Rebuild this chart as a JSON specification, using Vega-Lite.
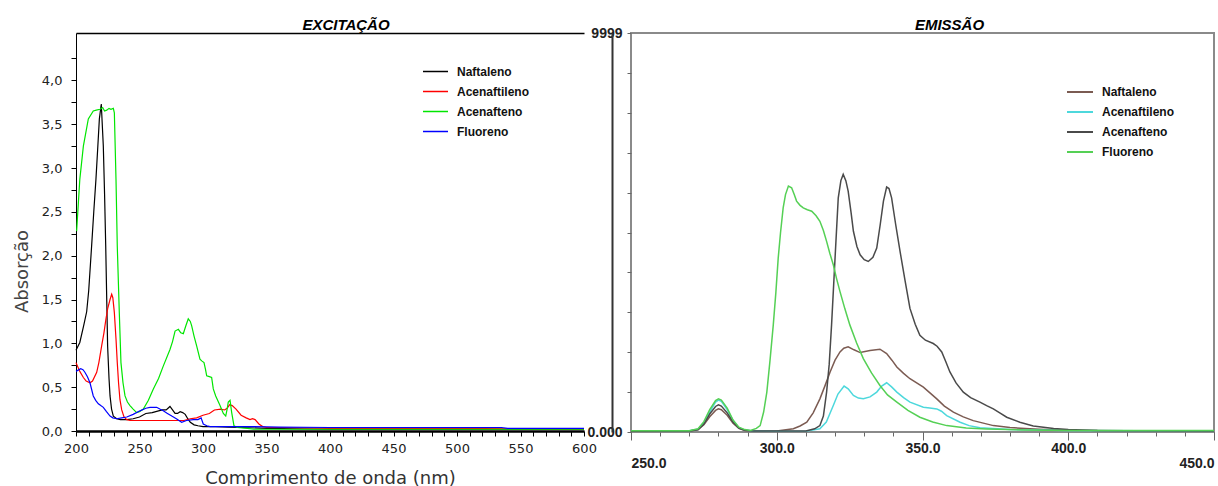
{
  "$schema": "https://vega.github.io/schema/vega-lite/v6.json",
  "padding": {"left": 13, "top": 17, "right": 0, "bottom": 0},
  "background": "white",
  "bounds": "flush",
  "spacing": 47,
  "config": {"view": {"stroke": null}},
  "datasets": {
    "exc": [
      {"s":"Naftaleno","nm":200,"v":0.92},{"s":"Naftaleno","nm":203,"v":1.01},{"s":"Naftaleno","nm":206,"v":1.2},{"s":"Naftaleno","nm":208.4,"v":1.36},{"s":"Naftaleno","nm":210,"v":1.6},{"s":"Naftaleno","nm":212.3,"v":2.11},{"s":"Naftaleno","nm":214,"v":2.5},{"s":"Naftaleno","nm":215.7,"v":2.87},{"s":"Naftaleno","nm":217,"v":3.2},{"s":"Naftaleno","nm":218.4,"v":3.56},{"s":"Naftaleno","nm":219.9,"v":3.73},{"s":"Naftaleno","nm":221.5,"v":3.25},{"s":"Naftaleno","nm":222.5,"v":2.7},{"s":"Naftaleno","nm":223.4,"v":2.11},{"s":"Naftaleno","nm":224.2,"v":1.5},{"s":"Naftaleno","nm":224.9,"v":0.97},{"s":"Naftaleno","nm":226,"v":0.6},{"s":"Naftaleno","nm":226.8,"v":0.4},{"s":"Naftaleno","nm":228,"v":0.25},{"s":"Naftaleno","nm":229.4,"v":0.17},{"s":"Naftaleno","nm":232,"v":0.14},{"s":"Naftaleno","nm":235,"v":0.13},{"s":"Naftaleno","nm":240,"v":0.13},{"s":"Naftaleno","nm":245,"v":0.14},{"s":"Naftaleno","nm":250,"v":0.16},{"s":"Naftaleno","nm":255,"v":0.2},{"s":"Naftaleno","nm":260,"v":0.21},{"s":"Naftaleno","nm":265,"v":0.23},{"s":"Naftaleno","nm":268,"v":0.24},{"s":"Naftaleno","nm":271,"v":0.24},{"s":"Naftaleno","nm":274,"v":0.28},{"s":"Naftaleno","nm":276,"v":0.24},{"s":"Naftaleno","nm":278,"v":0.2},{"s":"Naftaleno","nm":280,"v":0.2},{"s":"Naftaleno","nm":282,"v":0.22},{"s":"Naftaleno","nm":284,"v":0.21},{"s":"Naftaleno","nm":286,"v":0.19},{"s":"Naftaleno","nm":288,"v":0.14},{"s":"Naftaleno","nm":290,"v":0.1},{"s":"Naftaleno","nm":293,"v":0.07},{"s":"Naftaleno","nm":296,"v":0.06},{"s":"Naftaleno","nm":300,"v":0.05},{"s":"Naftaleno","nm":310,"v":0.05},{"s":"Naftaleno","nm":320,"v":0.045},{"s":"Naftaleno","nm":330,"v":0.04},{"s":"Naftaleno","nm":350,"v":0.03},{"s":"Naftaleno","nm":400,"v":0.02},{"s":"Naftaleno","nm":500,"v":0.02},{"s":"Naftaleno","nm":600,"v":0.02},
      {"s":"Acenaftileno","nm":200,"v":0.78},{"s":"Acenaftileno","nm":203,"v":0.68},{"s":"Acenaftileno","nm":205.8,"v":0.61},{"s":"Acenaftileno","nm":208,"v":0.57},{"s":"Acenaftileno","nm":211,"v":0.55},{"s":"Acenaftileno","nm":213,"v":0.57},{"s":"Acenaftileno","nm":216.3,"v":0.67},{"s":"Acenaftileno","nm":218,"v":0.78},{"s":"Acenaftileno","nm":220.2,"v":0.97},{"s":"Acenaftileno","nm":222,"v":1.12},{"s":"Acenaftileno","nm":223.6,"v":1.28},{"s":"Acenaftileno","nm":225,"v":1.4},{"s":"Acenaftileno","nm":226.8,"v":1.5},{"s":"Acenaftileno","nm":228.1,"v":1.56},{"s":"Acenaftileno","nm":229,"v":1.52},{"s":"Acenaftileno","nm":230.2,"v":1.35},{"s":"Acenaftileno","nm":231.5,"v":1.05},{"s":"Acenaftileno","nm":232.5,"v":0.78},{"s":"Acenaftileno","nm":233.5,"v":0.55},{"s":"Acenaftileno","nm":234.6,"v":0.36},{"s":"Acenaftileno","nm":236,"v":0.24},{"s":"Acenaftileno","nm":237.8,"v":0.16},{"s":"Acenaftileno","nm":240,"v":0.13},{"s":"Acenaftileno","nm":242.5,"v":0.12},{"s":"Acenaftileno","nm":250,"v":0.12},{"s":"Acenaftileno","nm":260,"v":0.12},{"s":"Acenaftileno","nm":270,"v":0.12},{"s":"Acenaftileno","nm":280,"v":0.12},{"s":"Acenaftileno","nm":285,"v":0.12},{"s":"Acenaftileno","nm":290,"v":0.14},{"s":"Acenaftileno","nm":295,"v":0.15},{"s":"Acenaftileno","nm":300,"v":0.18},{"s":"Acenaftileno","nm":305,"v":0.2},{"s":"Acenaftileno","nm":309,"v":0.24},{"s":"Acenaftileno","nm":314,"v":0.25},{"s":"Acenaftileno","nm":317,"v":0.24},{"s":"Acenaftileno","nm":319,"v":0.26},{"s":"Acenaftileno","nm":321,"v":0.3},{"s":"Acenaftileno","nm":323,"v":0.29},{"s":"Acenaftileno","nm":326,"v":0.25},{"s":"Acenaftileno","nm":330,"v":0.18},{"s":"Acenaftileno","nm":334,"v":0.15},{"s":"Acenaftileno","nm":337,"v":0.13},{"s":"Acenaftileno","nm":339,"v":0.14},{"s":"Acenaftileno","nm":341,"v":0.13},{"s":"Acenaftileno","nm":344,"v":0.08},{"s":"Acenaftileno","nm":347,"v":0.05},{"s":"Acenaftileno","nm":350,"v":0.04},{"s":"Acenaftileno","nm":360,"v":0.04},{"s":"Acenaftileno","nm":400,"v":0.03},{"s":"Acenaftileno","nm":500,"v":0.03},{"s":"Acenaftileno","nm":600,"v":0.02},
      {"s":"Acenafteno","nm":200.5,"v":2.28},{"s":"Acenafteno","nm":203,"v":2.87},{"s":"Acenafteno","nm":205.8,"v":3.25},{"s":"Acenafteno","nm":209.7,"v":3.56},{"s":"Acenafteno","nm":213.6,"v":3.65},{"s":"Acenafteno","nm":216,"v":3.66},{"s":"Acenafteno","nm":218.9,"v":3.67},{"s":"Acenafteno","nm":221,"v":3.69},{"s":"Acenafteno","nm":222.5,"v":3.65},{"s":"Acenafteno","nm":224.2,"v":3.66},{"s":"Acenafteno","nm":226,"v":3.68},{"s":"Acenafteno","nm":227.5,"v":3.67},{"s":"Acenafteno","nm":229.4,"v":3.68},{"s":"Acenafteno","nm":230.2,"v":3.63},{"s":"Acenafteno","nm":231.5,"v":2.87},{"s":"Acenafteno","nm":232.5,"v":2.11},{"s":"Acenafteno","nm":234.1,"v":1.35},{"s":"Acenafteno","nm":235.4,"v":0.78},{"s":"Acenafteno","nm":237,"v":0.55},{"s":"Acenafteno","nm":238.6,"v":0.4},{"s":"Acenafteno","nm":240.5,"v":0.33},{"s":"Acenafteno","nm":242.5,"v":0.29},{"s":"Acenafteno","nm":245,"v":0.25},{"s":"Acenafteno","nm":247.8,"v":0.21},{"s":"Acenafteno","nm":250,"v":0.22},{"s":"Acenafteno","nm":253,"v":0.25},{"s":"Acenafteno","nm":257,"v":0.35},{"s":"Acenafteno","nm":260.9,"v":0.48},{"s":"Acenafteno","nm":265,"v":0.6},{"s":"Acenafteno","nm":268.7,"v":0.74},{"s":"Acenafteno","nm":274,"v":0.93},{"s":"Acenafteno","nm":276,"v":1.02},{"s":"Acenafteno","nm":278,"v":1.14},{"s":"Acenafteno","nm":280.6,"v":1.16},{"s":"Acenafteno","nm":282.5,"v":1.12},{"s":"Acenafteno","nm":284.5,"v":1.11},{"s":"Acenafteno","nm":286.5,"v":1.2},{"s":"Acenafteno","nm":288.4,"v":1.28},{"s":"Acenafteno","nm":290,"v":1.25},{"s":"Acenafteno","nm":291.1,"v":1.2},{"s":"Acenafteno","nm":293,"v":1.08},{"s":"Acenafteno","nm":295,"v":0.97},{"s":"Acenafteno","nm":297.6,"v":0.82},{"s":"Acenafteno","nm":299,"v":0.8},{"s":"Acenafteno","nm":300.8,"v":0.78},{"s":"Acenafteno","nm":302,"v":0.7},{"s":"Acenafteno","nm":302.9,"v":0.63},{"s":"Acenafteno","nm":305,"v":0.62},{"s":"Acenafteno","nm":306.8,"v":0.61},{"s":"Acenafteno","nm":308.1,"v":0.48},{"s":"Acenafteno","nm":310,"v":0.4},{"s":"Acenafteno","nm":313.4,"v":0.29},{"s":"Acenafteno","nm":316,"v":0.2},{"s":"Acenafteno","nm":317.9,"v":0.17},{"s":"Acenafteno","nm":319,"v":0.25},{"s":"Acenafteno","nm":319.9,"v":0.33},{"s":"Acenafteno","nm":321.3,"v":0.35},{"s":"Acenafteno","nm":322.6,"v":0.21},{"s":"Acenafteno","nm":324.4,"v":0.06},{"s":"Acenafteno","nm":327,"v":0.04},{"s":"Acenafteno","nm":335,"v":0.03},{"s":"Acenafteno","nm":340,"v":0.02},{"s":"Acenafteno","nm":350,"v":0.02},{"s":"Acenafteno","nm":400,"v":0.02},{"s":"Acenafteno","nm":500,"v":0.02},{"s":"Acenafteno","nm":600,"v":0.02},
      {"s":"Fluoreno","nm":200,"v":0.68},{"s":"Fluoreno","nm":203.7,"v":0.71},{"s":"Fluoreno","nm":205.5,"v":0.7},{"s":"Fluoreno","nm":207,"v":0.67},{"s":"Fluoreno","nm":209,"v":0.62},{"s":"Fluoreno","nm":211,"v":0.55},{"s":"Fluoreno","nm":213.6,"v":0.4},{"s":"Fluoreno","nm":215.5,"v":0.35},{"s":"Fluoreno","nm":217.6,"v":0.31},{"s":"Fluoreno","nm":219.5,"v":0.29},{"s":"Fluoreno","nm":221.5,"v":0.27},{"s":"Fluoreno","nm":224,"v":0.22},{"s":"Fluoreno","nm":226.8,"v":0.17},{"s":"Fluoreno","nm":229,"v":0.15},{"s":"Fluoreno","nm":232,"v":0.14},{"s":"Fluoreno","nm":236,"v":0.15},{"s":"Fluoreno","nm":240,"v":0.16},{"s":"Fluoreno","nm":245,"v":0.19},{"s":"Fluoreno","nm":250.4,"v":0.23},{"s":"Fluoreno","nm":255,"v":0.26},{"s":"Fluoreno","nm":258.3,"v":0.27},{"s":"Fluoreno","nm":263.5,"v":0.27},{"s":"Fluoreno","nm":266,"v":0.25},{"s":"Fluoreno","nm":268.7,"v":0.23},{"s":"Fluoreno","nm":272,"v":0.2},{"s":"Fluoreno","nm":275.4,"v":0.17},{"s":"Fluoreno","nm":279,"v":0.14},{"s":"Fluoreno","nm":283.2,"v":0.1},{"s":"Fluoreno","nm":287,"v":0.12},{"s":"Fluoreno","nm":292.4,"v":0.13},{"s":"Fluoreno","nm":296,"v":0.13},{"s":"Fluoreno","nm":298.5,"v":0.15},{"s":"Fluoreno","nm":300.2,"v":0.08},{"s":"Fluoreno","nm":303,"v":0.06},{"s":"Fluoreno","nm":305.5,"v":0.05},{"s":"Fluoreno","nm":320,"v":0.05},{"s":"Fluoreno","nm":340,"v":0.05},{"s":"Fluoreno","nm":360,"v":0.045},{"s":"Fluoreno","nm":400,"v":0.04},{"s":"Fluoreno","nm":500,"v":0.04},{"s":"Fluoreno","nm":535,"v":0.04},{"s":"Fluoreno","nm":540,"v":0.03},{"s":"Fluoreno","nm":600,"v":0.03}
    ],
    "emi": [
      {"s":"Naftaleno","nm":250,"v":20},{"s":"Naftaleno","nm":260,"v":25},{"s":"Naftaleno","nm":270,"v":25},{"s":"Naftaleno","nm":273,"v":60},{"s":"Naftaleno","nm":275,"v":180},{"s":"Naftaleno","nm":277,"v":380},{"s":"Naftaleno","nm":279,"v":540},{"s":"Naftaleno","nm":280,"v":580},{"s":"Naftaleno","nm":281,"v":560},{"s":"Naftaleno","nm":283,"v":420},{"s":"Naftaleno","nm":285,"v":220},{"s":"Naftaleno","nm":287,"v":90},{"s":"Naftaleno","nm":289,"v":40},{"s":"Naftaleno","nm":292,"v":25},{"s":"Naftaleno","nm":300,"v":25},{"s":"Naftaleno","nm":305.7,"v":80},{"s":"Naftaleno","nm":308,"v":150},{"s":"Naftaleno","nm":310.3,"v":244},{"s":"Naftaleno","nm":312.5,"v":480},{"s":"Naftaleno","nm":314.8,"v":831},{"s":"Naftaleno","nm":316.5,"v":1150},{"s":"Naftaleno","nm":318.3,"v":1504},{"s":"Naftaleno","nm":320,"v":1800},{"s":"Naftaleno","nm":321.7,"v":2007},{"s":"Naftaleno","nm":323,"v":2100},{"s":"Naftaleno","nm":324.5,"v":2133},{"s":"Naftaleno","nm":326.5,"v":2060},{"s":"Naftaleno","nm":328.6,"v":1990},{"s":"Naftaleno","nm":332,"v":2040},{"s":"Naftaleno","nm":335.4,"v":2074},{"s":"Naftaleno","nm":337.7,"v":1965},{"s":"Naftaleno","nm":339.5,"v":1800},{"s":"Naftaleno","nm":341.2,"v":1630},{"s":"Naftaleno","nm":343.5,"v":1470},{"s":"Naftaleno","nm":345.7,"v":1335},{"s":"Naftaleno","nm":350.3,"v":1126},{"s":"Naftaleno","nm":354.9,"v":831},{"s":"Naftaleno","nm":357.5,"v":650},{"s":"Naftaleno","nm":360.6,"v":496},{"s":"Naftaleno","nm":364,"v":380},{"s":"Naftaleno","nm":367.4,"v":285},{"s":"Naftaleno","nm":374.3,"v":160},{"s":"Naftaleno","nm":380,"v":110},{"s":"Naftaleno","nm":390,"v":70},{"s":"Naftaleno","nm":400,"v":45},{"s":"Naftaleno","nm":420,"v":30},{"s":"Naftaleno","nm":450,"v":25},
      {"s":"Acenaftileno","nm":250,"v":25},{"s":"Acenaftileno","nm":270,"v":30},{"s":"Acenaftileno","nm":273,"v":70},{"s":"Acenaftileno","nm":275,"v":230},{"s":"Acenaftileno","nm":277,"v":500},{"s":"Acenaftileno","nm":279,"v":750},{"s":"Acenaftileno","nm":280,"v":800},{"s":"Acenaftileno","nm":281,"v":770},{"s":"Acenaftileno","nm":283,"v":560},{"s":"Acenaftileno","nm":285,"v":290},{"s":"Acenaftileno","nm":287,"v":110},{"s":"Acenaftileno","nm":289,"v":50},{"s":"Acenaftileno","nm":292,"v":25},{"s":"Acenaftileno","nm":300,"v":20},{"s":"Acenaftileno","nm":310.3,"v":25},{"s":"Acenaftileno","nm":314.8,"v":80},{"s":"Acenaftileno","nm":317,"v":250},{"s":"Acenaftileno","nm":319.4,"v":663},{"s":"Acenaftileno","nm":321,"v":950},{"s":"Acenaftileno","nm":323.1,"v":1151},{"s":"Acenaftileno","nm":324.5,"v":1080},{"s":"Acenaftileno","nm":326.3,"v":915},{"s":"Acenaftileno","nm":328,"v":850},{"s":"Acenaftileno","nm":329.7,"v":831},{"s":"Acenaftileno","nm":332,"v":880},{"s":"Acenaftileno","nm":334.3,"v":1000},{"s":"Acenaftileno","nm":336,"v":1150},{"s":"Acenaftileno","nm":337.7,"v":1234},{"s":"Acenaftileno","nm":339.4,"v":1130},{"s":"Acenaftileno","nm":341.2,"v":1000},{"s":"Acenaftileno","nm":343.5,"v":860},{"s":"Acenaftileno","nm":345.7,"v":748},{"s":"Acenaftileno","nm":350.3,"v":621},{"s":"Acenaftileno","nm":352.5,"v":600},{"s":"Acenaftileno","nm":354.9,"v":579},{"s":"Acenaftileno","nm":356.5,"v":520},{"s":"Acenaftileno","nm":358.3,"v":412},{"s":"Acenaftileno","nm":362.9,"v":244},{"s":"Acenaftileno","nm":366,"v":160},{"s":"Acenaftileno","nm":369.7,"v":109},{"s":"Acenaftileno","nm":380,"v":60},{"s":"Acenaftileno","nm":400,"v":35},{"s":"Acenaftileno","nm":450,"v":25},
      {"s":"Acenafteno","nm":250,"v":20},{"s":"Acenafteno","nm":270,"v":25},{"s":"Acenafteno","nm":273,"v":55},{"s":"Acenafteno","nm":275,"v":200},{"s":"Acenafteno","nm":277,"v":450},{"s":"Acenafteno","nm":279,"v":640},{"s":"Acenafteno","nm":280,"v":680},{"s":"Acenafteno","nm":281,"v":650},{"s":"Acenafteno","nm":283,"v":480},{"s":"Acenafteno","nm":285,"v":250},{"s":"Acenafteno","nm":287,"v":100},{"s":"Acenafteno","nm":289,"v":45},{"s":"Acenafteno","nm":292,"v":25},{"s":"Acenafteno","nm":310,"v":25},{"s":"Acenafteno","nm":313,"v":80},{"s":"Acenafteno","nm":314.8,"v":160},{"s":"Acenafteno","nm":316,"v":400},{"s":"Acenafteno","nm":317.1,"v":1000},{"s":"Acenafteno","nm":318,"v":1700},{"s":"Acenafteno","nm":318.8,"v":2678},{"s":"Acenafteno","nm":320,"v":4358},{"s":"Acenafteno","nm":321.1,"v":5869},{"s":"Acenafteno","nm":322,"v":6300},{"s":"Acenafteno","nm":322.8,"v":6456},{"s":"Acenafteno","nm":323.7,"v":6300},{"s":"Acenafteno","nm":324.5,"v":6038},{"s":"Acenafteno","nm":325.5,"v":5500},{"s":"Acenafteno","nm":326.3,"v":5030},{"s":"Acenafteno","nm":327.5,"v":4650},{"s":"Acenafteno","nm":328.6,"v":4441},{"s":"Acenafteno","nm":330,"v":4320},{"s":"Acenafteno","nm":331.4,"v":4274},{"s":"Acenafteno","nm":333,"v":4380},{"s":"Acenafteno","nm":334.3,"v":4610},{"s":"Acenafteno","nm":335.5,"v":5200},{"s":"Acenafteno","nm":336.6,"v":5786},{"s":"Acenafteno","nm":337.7,"v":6139},{"s":"Acenafteno","nm":338.5,"v":6100},{"s":"Acenafteno","nm":339.4,"v":5869},{"s":"Acenafteno","nm":340.8,"v":5200},{"s":"Acenafteno","nm":342.3,"v":4526},{"s":"Acenafteno","nm":344,"v":3800},{"s":"Acenafteno","nm":345.7,"v":3098},{"s":"Acenafteno","nm":347.5,"v":2700},{"s":"Acenafteno","nm":349.1,"v":2426},{"s":"Acenafteno","nm":351,"v":2300},{"s":"Acenafteno","nm":353.7,"v":2217},{"s":"Acenafteno","nm":355,"v":2150},{"s":"Acenafteno","nm":356.6,"v":2007},{"s":"Acenafteno","nm":358,"v":1760},{"s":"Acenafteno","nm":359.4,"v":1504},{"s":"Acenafteno","nm":361.5,"v":1230},{"s":"Acenafteno","nm":364,"v":1000},{"s":"Acenafteno","nm":366.5,"v":860},{"s":"Acenafteno","nm":369.7,"v":748},{"s":"Acenafteno","nm":372,"v":660},{"s":"Acenafteno","nm":374.3,"v":579},{"s":"Acenafteno","nm":376.5,"v":480},{"s":"Acenafteno","nm":378.9,"v":370},{"s":"Acenafteno","nm":383.4,"v":244},{"s":"Acenafteno","nm":388,"v":150},{"s":"Acenafteno","nm":395,"v":90},{"s":"Acenafteno","nm":400,"v":60},{"s":"Acenafteno","nm":410,"v":35},{"s":"Acenafteno","nm":450,"v":25},
      {"s":"Fluoreno","nm":250,"v":30},{"s":"Fluoreno","nm":270,"v":30},{"s":"Fluoreno","nm":273,"v":80},{"s":"Fluoreno","nm":275,"v":260},{"s":"Fluoreno","nm":277,"v":560},{"s":"Fluoreno","nm":279,"v":790},{"s":"Fluoreno","nm":280,"v":831},{"s":"Fluoreno","nm":281,"v":800},{"s":"Fluoreno","nm":283,"v":600},{"s":"Fluoreno","nm":285,"v":300},{"s":"Fluoreno","nm":287,"v":120},{"s":"Fluoreno","nm":289,"v":60},{"s":"Fluoreno","nm":291,"v":40},{"s":"Fluoreno","nm":293,"v":90},{"s":"Fluoreno","nm":294.3,"v":160},{"s":"Fluoreno","nm":295.5,"v":500},{"s":"Fluoreno","nm":296.6,"v":1000},{"s":"Fluoreno","nm":297.7,"v":1800},{"s":"Fluoreno","nm":298.8,"v":2678},{"s":"Fluoreno","nm":299.7,"v":3500},{"s":"Fluoreno","nm":300.5,"v":4358},{"s":"Fluoreno","nm":301.3,"v":5000},{"s":"Fluoreno","nm":302.2,"v":5617},{"s":"Fluoreno","nm":303,"v":5950},{"s":"Fluoreno","nm":304,"v":6164},{"s":"Fluoreno","nm":305.1,"v":6121},{"s":"Fluoreno","nm":306,"v":5950},{"s":"Fluoreno","nm":306.8,"v":5786},{"s":"Fluoreno","nm":308,"v":5680},{"s":"Fluoreno","nm":309.1,"v":5617},{"s":"Fluoreno","nm":310.5,"v":5570},{"s":"Fluoreno","nm":312,"v":5534},{"s":"Fluoreno","nm":313.5,"v":5420},{"s":"Fluoreno","nm":314.8,"v":5282},{"s":"Fluoreno","nm":316,"v":5050},{"s":"Fluoreno","nm":317.1,"v":4778},{"s":"Fluoreno","nm":318.2,"v":4480},{"s":"Fluoreno","nm":319.4,"v":4190},{"s":"Fluoreno","nm":320.5,"v":3850},{"s":"Fluoreno","nm":321.7,"v":3519},{"s":"Fluoreno","nm":323.4,"v":3080},{"s":"Fluoreno","nm":325.1,"v":2678},{"s":"Fluoreno","nm":327.4,"v":2230},{"s":"Fluoreno","nm":329.7,"v":1839},{"s":"Fluoreno","nm":332.5,"v":1480},{"s":"Fluoreno","nm":335.4,"v":1166},{"s":"Fluoreno","nm":338,"v":930},{"s":"Fluoreno","nm":341.2,"v":748},{"s":"Fluoreno","nm":345,"v":540},{"s":"Fluoreno","nm":349.1,"v":370},{"s":"Fluoreno","nm":353.5,"v":250},{"s":"Fluoreno","nm":358.3,"v":160},{"s":"Fluoreno","nm":365,"v":100},{"s":"Fluoreno","nm":372,"v":76},{"s":"Fluoreno","nm":385,"v":50},{"s":"Fluoreno","nm":400,"v":40},{"s":"Fluoreno","nm":450,"v":35}
    ]
  },
  "resolve": {"scale": {"color": "independent", "x": "independent", "y": "independent"}},
  "hconcat": [
    {
      "width": 508,
      "height": 398,
      "data": {"name": "exc"},
      "title": {"text": "EXCITAÇÃO", "font": "Liberation Sans", "fontSize": 15, "fontWeight": "bold", "fontStyle": "italic", "color": "#000000", "anchor": "middle", "baseline": "alphabetic", "offset": 3, "dx": 16, "dy": 15},
      "layer": [
        {
          "mark": {"type": "line", "strokeWidth": 1.2},
          "encoding": {
            "x": {"field": "nm", "type": "quantitative", "scale": {"domain": [200, 600], "nice": false, "zero": false},
              "axis": {"title": "Comprimento de onda (nm)", "values": [200,210,220,230,240,250,260,270,280,290,300,310,320,330,340,350,360,370,380,390,400,410,420,430,440,450,460,470,480,490,500,510,520,530,540,550,560,570,580,590,600],
                "labelExpr": "datum.value % 50 === 0 ? format(datum.value, 'd') : ''", "labelFlush": false, "labelOverlap": false, "grid": false,
                "domainColor": "#000000", "domainWidth": 2.5, "tickColor": "#000000", "tickSize": 5, "tickWidth": 1,
                "labelFont": "DejaVu Sans", "labelFontSize": 13, "labelColor": "#222222", "labelPadding": 6,
                "titleFont": "DejaVu Sans", "titleFontSize": 18, "titleFontWeight": "normal", "titleColor": "#333333", "titlePadding": 14}},
            "y": {"field": "v", "type": "quantitative", "scale": {"domain": [0, 4.54], "nice": false},
              "axis": {"title": "Absorção", "values": [0,0.25,0.5,0.75,1,1.25,1.5,1.75,2,2.25,2.5,2.75,3,3.25,3.5,3.75,4,4.25],
                "labelExpr": "datum.value % 0.5 === 0 ? replace(format(datum.value, '.1f'), '.', ',') : ''", "labelFlush": false, "labelOverlap": false, "grid": false,
                "domainColor": "#000000", "domainWidth": 1, "tickColor": "#000000", "tickSize": 5,
                "labelFont": "DejaVu Sans", "labelFontSize": 13, "labelColor": "#222222", "labelPadding": 9,
                "titleFont": "DejaVu Sans", "titleFontSize": 18, "titleFontWeight": "normal", "titleColor": "#444444", "titleX": -45, "titleY": 238}},
            "color": {"field": "s", "type": "nominal",
              "scale": {"domain": ["Naftaleno", "Acenaftileno", "Acenafteno", "Fluoreno"], "range": ["#000000", "#ff0000", "#00e600", "#0000ff"]},
              "legend": {"title": null, "orient": "none", "legendX": 346, "legendY": 25, "symbolType": "stroke", "symbolSize": 625, "symbolStrokeWidth": 1.5,
                "labelFont": "Liberation Sans", "labelFontWeight": "bold", "labelFontSize": 12, "labelColor": "#111111", "labelOffset": 8, "rowPadding": -5, "padding": 0}}
          }
        },
        {
          "mark": {"type": "point", "opacity": 0},
          "encoding": {
            "x": {"field": "nm", "type": "quantitative", "axis": {"orient": "top", "title": null, "labels": false, "ticks": false, "grid": false, "domainColor": "#000000", "domainWidth": 1.5, "minExtent": 0, "maxExtent": 0}}
          }
        }
      ],
      "resolve": {"axis": {"x": "independent"}}
    },
    {
      "width": 583,
      "height": 399,
      "data": {"name": "emi"},
      "view": {"stroke": "#8a8a8a", "strokeWidth": 2},
      "title": {"text": "EMISSÃO", "font": "Liberation Sans", "fontSize": 15, "fontWeight": "bold", "fontStyle": "italic", "color": "#000000", "anchor": "middle", "baseline": "alphabetic", "offset": 3, "dx": 27, "dy": 22},
      "layer": [
        {
          "mark": {"type": "line", "strokeWidth": 1.5},
          "encoding": {
            "x": {"field": "nm", "type": "quantitative", "scale": {"domain": [250, 450], "nice": false, "zero": false},
              "axis": {"orient": "bottom", "title": null, "values": [250,260,270,280,290,300,310,320,330,340,350,360,370,380,390,400,410,420,430,440,450],
                "labelExpr": "(datum.value === 300 || datum.value === 350 || datum.value === 400) ? format(datum.value, '.1f') : ''", "labelFlush": false, "labelOverlap": false, "grid": false,
                "domain": false, "tickColor": "#666666", "tickSize": 4, "tickWidth": 1,
                "labelFont": "Liberation Sans", "labelFontWeight": "bold", "labelFontSize": 14, "labelColor": "#222222", "labelPadding": 5}},
            "y": {"field": "v", "type": "quantitative", "scale": {"domain": [0, 9999], "nice": false},
              "axis": {"orient": "left", "title": null, "values": [0,999.9,1999.8,2999.7,3999.6,4999.5,5999.4,6999.3,7999.2,8999.1,9999],
                "labelExpr": "datum.value === 0 ? '0.000' : (datum.value === 9999 ? '9999' : '')", "labelFlush": false, "labelOverlap": false, "grid": false,
                "domain": false, "tickColor": "#666666", "tickSize": 4,
                "labelFont": "Liberation Sans", "labelFontWeight": "bold", "labelFontSize": 14, "labelColor": "#222222", "labelPadding": 5}},
            "color": {"field": "s", "type": "nominal",
              "scale": {"domain": ["Naftaleno", "Acenaftileno", "Acenafteno", "Fluoreno"], "range": ["#7b5b52", "#4dd8dc", "#4a4a4a", "#55d055"]},
              "legend": {"title": null, "orient": "none", "legendX": 435, "legendY": 45, "symbolType": "stroke", "symbolSize": 676, "symbolStrokeWidth": 2,
                "labelFont": "Liberation Sans", "labelFontWeight": "bold", "labelFontSize": 12, "labelColor": "#111111", "labelOffset": 8, "rowPadding": -5, "padding": 0}}
          }
        },
        {
          "mark": {"type": "point", "opacity": 0},
          "encoding": {
            "x": {"field": "nm", "type": "quantitative",
              "axis": {"orient": "bottom", "title": null, "values": [250, 300, 350, 400, 450], "labelExpr": "(datum.value === 250 || datum.value === 450) ? format(datum.value, '.1f') : ''",
                "labelFlush": true, "labelOverlap": false, "grid": false, "domain": false, "tickColor": "#666666", "tickSize": 8, "tickWidth": 1,
                "labelFont": "Liberation Sans", "labelFontWeight": "bold", "labelFontSize": 14, "labelColor": "#222222", "labelPadding": 16}},
            "y": {"field": "v", "type": "quantitative",
              "axis": {"orient": "left", "title": null, "labels": false, "ticks": false, "grid": false, "offset": 19, "domainColor": "#333333", "domainWidth": 2}}
          }
        }
      ],
      "resolve": {"axis": {"x": "independent", "y": "independent"}}
    }
  ]
}
